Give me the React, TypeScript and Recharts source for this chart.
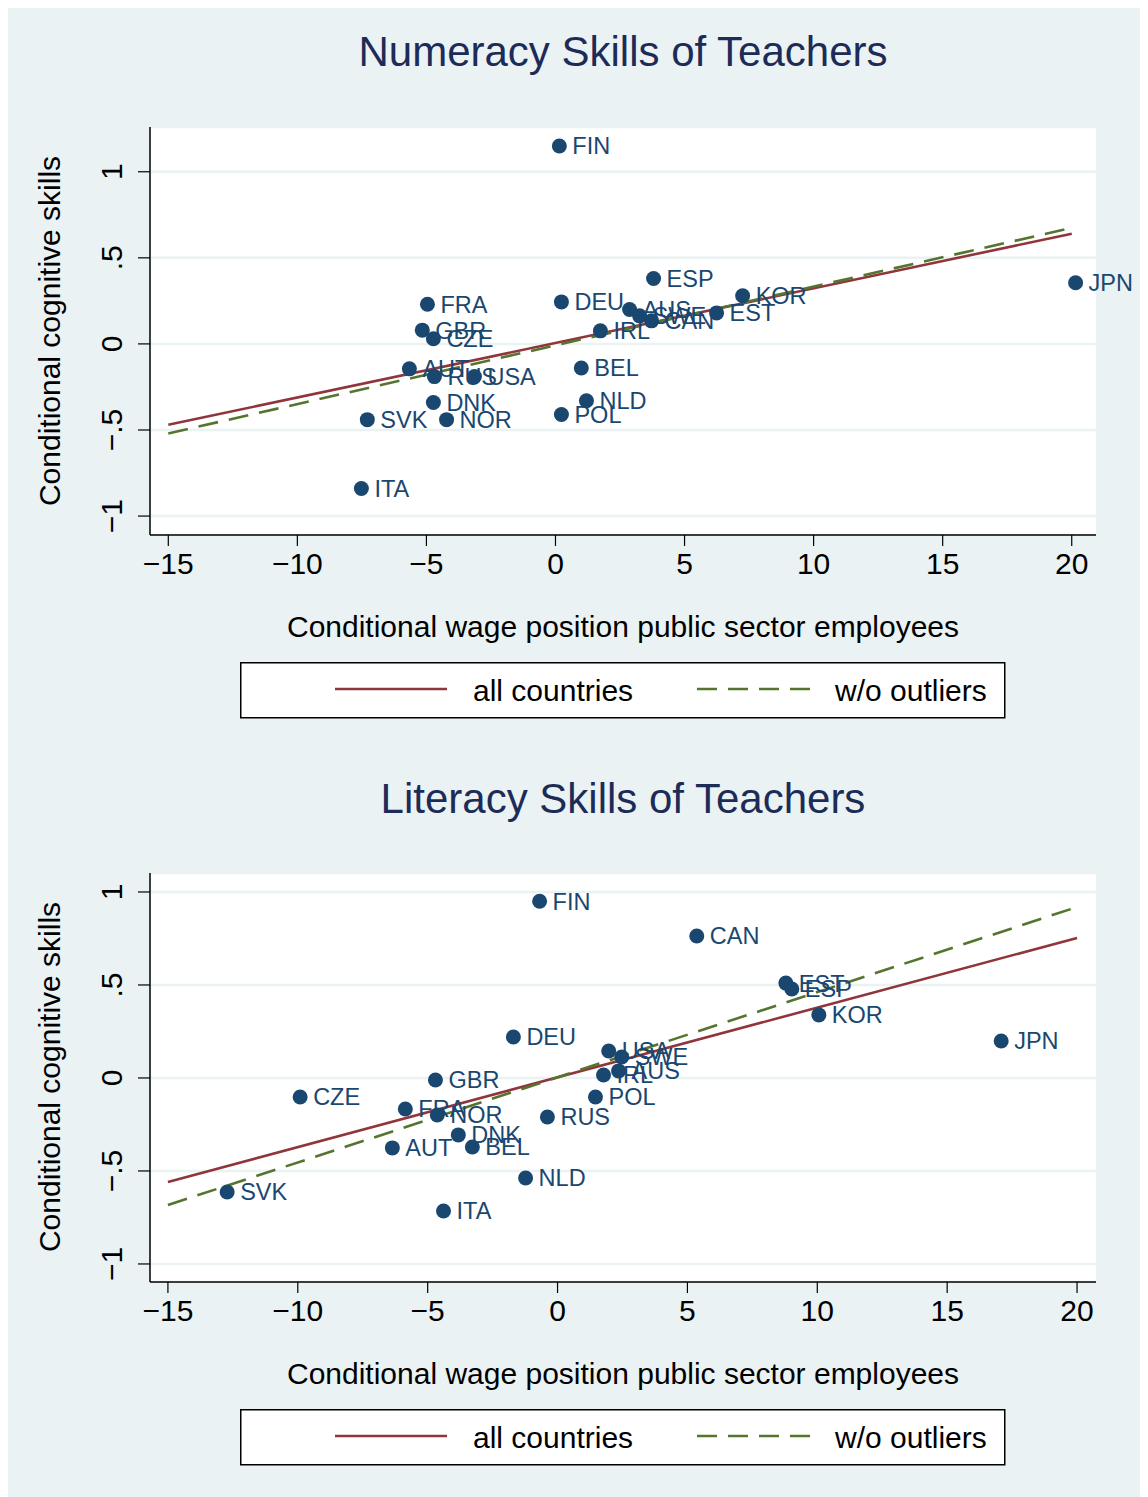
import React from 'react';
import { ComposedChart, Scatter, Line, XAxis, YAxis, CartesianGrid } from 'recharts';

// Numeracy panel
const numCountries = ['FIN', 'ESP', 'KOR', 'JPN', 'FRA', 'DEU', 'AUS', 'SWE', 'CAN', 'EST', 'GBR', 'CZE', 'IRL', 'AUT', 'RUS', 'USA', 'BEL', 'DNK', 'NLD', 'SVK', 'NOR', 'POL', 'ITA'];
const numWage = [0.15, 3.8, 7.25, 20.15, -4.96, 0.23, 2.87, 3.26, 3.72, 6.24, -5.16, -4.73, 1.74, -5.66, -4.69, -3.14, 1.0, -4.73, 1.2, -7.29, -4.22, 0.23, -7.52];
const numSkill = [1.15, 0.38, 0.28, 0.355, 0.23, 0.244, 0.2, 0.163, 0.134, 0.18, 0.08, 0.03, 0.076, -0.145, -0.19, -0.19, -0.14, -0.34, -0.33, -0.44, -0.44, -0.41, -0.84];
const numFitX = [-15, 20];
const numFitAll = [-0.47, 0.64];
const numFitNoOutliers = [-0.52, 0.674];

// Literacy panel
const litCountries = ['FIN', 'CAN', 'EST', 'ESP', 'KOR', 'JPN', 'DEU', 'USA', 'SWE', 'IRL', 'AUS', 'POL', 'RUS', 'GBR', 'CZE', 'FRA', 'NOR', 'DNK', 'AUT', 'BEL', 'NLD', 'SVK', 'ITA'];
const litWage = [-0.69, 5.36, 8.79, 9.02, 10.06, 17.08, -1.7, 1.97, 2.47, 1.77, 2.35, 1.46, -0.39, -4.7, -9.91, -5.86, -4.63, -3.82, -6.36, -3.28, -1.23, -12.72, -4.39];
const litSkill = [0.95, 0.763, 0.51, 0.478, 0.339, 0.199, 0.22, 0.145, 0.113, 0.016, 0.038, -0.102, -0.21, -0.011, -0.102, -0.167, -0.199, -0.306, -0.376, -0.371, -0.538, -0.613, -0.715];
const litFitX = [-15, 20];
const litFitAll = [-0.559, 0.753];
const litFitNoOutliers = [-0.683, 0.919];

const xTicks = [-15, -10, -5, 0, 5, 10, 15, 20];
const yTicks = [-1, -0.5, 0, 0.5, 1];

const BG = '#eaf2f3';
const NAVY = '#1a476f';
const RED = '#90353b';
const GREEN = '#55752f';
const TITLE = '#1c2b57';
const FONT = '"Liberation Sans", Arial, Helvetica, sans-serif';

const fmtX = (v: number) => String(v).replace('-', '\u2212');
const fmtY = (v: number) => {
  if (v === 0) return '0';
  const s = Math.abs(v) === 0.5 ? '.5' : String(Math.abs(v));
  return v < 0 ? '\u2212' + s : s;
};

const YTick = (props: any) => {
  const { x, y, payload } = props;
  const bx = x - 14;
  return (
    <text x={bx} y={y} transform={`rotate(-90 ${bx} ${y})`} textAnchor="middle" fontSize={30} fill="#000">
      {fmtY(payload.value)}
    </text>
  );
};

const Dot = (props: any) => {
  const { cx, cy, payload } = props;
  if (cx == null || cy == null) return null;
  return (
    <g>
      <circle cx={cx} cy={cy} r={7.5} fill={NAVY} />
      <text x={cx + 13} y={cy + 8.4} fontSize={23.5} fill={NAVY}>{payload.name}</text>
    </g>
  );
};

interface PanelProps {
  top: number;
  title: string;
  names: string[];
  wage: number[];
  skill: number[];
  fitX: number[];
  fitAll: number[];
  fitNo: number[];
  xDomain: [number, number];
  yDomain: [number, number];
  marginTop: number;
}

function Panel({ top, title, names, wage, skill, fitX, fitAll, fitNo, xDomain, yDomain, marginTop }: PanelProps) {
  const points = names.map((n, i) => ({ name: n, x: wage[i], y: skill[i] }));
  const allLine = fitX.map((x, i) => ({ x, y: fitAll[i] }));
  const noLine = fitX.map((x, i) => ({ x, y: fitNo[i] }));

  return (
    <div style={{ position: 'absolute', left: 0, top, width: 1133, height: 747 }}>
      <div style={{ position: 'absolute', left: 0, top: 23, width: 1230, textAlign: 'center', fontSize: 42, lineHeight: 1, color: TITLE, whiteSpace: 'nowrap' }}>
        {title}
      </div>
      <div style={{ position: 'absolute', left: 42, top: marginTop + 204, transform: 'translate(-50%, -50%) rotate(-90deg)', fontSize: 30, lineHeight: 1, whiteSpace: 'nowrap', color: '#000' }}>
        Conditional cognitive skills
      </div>
      <ComposedChart width={1133} height={747} margin={{ top: marginTop, right: 45, left: 82, bottom: 160 }}>
        <CartesianGrid horizontal vertical={false} stroke={BG} strokeWidth={2.5} fill="#fff" />
        <XAxis
          type="number"
          dataKey="x"
          domain={xDomain}
          ticks={xTicks}
          height={60}
          tickSize={11}
          tickMargin={7}
          tickFormatter={fmtX}
          tick={{ fontSize: 30, fill: '#000' }}
          axisLine={{ stroke: '#000', strokeWidth: 1.5 }}
          tickLine={{ stroke: '#000', strokeWidth: 1.2 }}
        />
        <YAxis
          type="number"
          dataKey="y"
          domain={yDomain}
          ticks={yTicks}
          width={60}
          tickSize={12}
          tick={<YTick />}
          axisLine={{ stroke: '#000', strokeWidth: 1.5 }}
          tickLine={{ stroke: '#000', strokeWidth: 1.2 }}
        />
        <Scatter data={points} dataKey="y" shape={<Dot />} isAnimationActive={false} />
        <Line data={allLine} dataKey="y" type="linear" stroke={RED} strokeWidth={2.6} dot={false} activeDot={false} isAnimationActive={false} />
        <Line data={noLine} dataKey="y" type="linear" stroke={GREEN} strokeWidth={2.6} strokeDasharray="20 11" dot={false} activeDot={false} isAnimationActive={false} />
      </ComposedChart>
      <div style={{ position: 'absolute', left: 0, top: 604, width: 1230, textAlign: 'center', fontSize: 30, lineHeight: 1, color: '#000', whiteSpace: 'nowrap' }}>
        Conditional wage position public sector employees
      </div>
      <svg style={{ position: 'absolute', left: 232, top: 654 }} width={766} height={57}>
        <rect x={0.75} y={0.75} width={764} height={55} fill="#fff" stroke="#000" strokeWidth={1.5} />
        <line x1={95} x2={207} y1={27} y2={27} stroke={RED} strokeWidth={2.6} />
        <text x={233} y={38.7} fontSize={30} fill="#000">all countries</text>
        <line x1={457} x2={570} y1={27} y2={27} stroke={GREEN} strokeWidth={2.6} strokeDasharray="20 11" />
        <text x={595} y={38.7} fontSize={30} fill="#000">w/o outliers</text>
      </svg>
    </div>
  );
}

export default function App() {
  return (
    <div style={{ position: 'relative', width: 1133, height: 1489, background: BG, fontFamily: FONT, overflow: 'hidden' }}>
      <Panel
        top={0}
        title="Numeracy Skills of Teachers"
        names={numCountries}
        wage={numWage}
        skill={numSkill}
        fitX={numFitX}
        fitAll={numFitAll}
        fitNo={numFitNoOutliers}
        xDomain={[-15.709, 20.94]}
        yDomain={[-1.11, 1.26]}
        marginTop={119}
      />
      <Panel
        top={747}
        title="Literacy Skills of Teachers"
        names={litCountries}
        wage={litWage}
        skill={litSkill}
        fitX={litFitX}
        fitAll={litFitAll}
        fitNo={litFitNoOutliers}
        xDomain={[-15.69, 20.73]}
        yDomain={[-1.097, 1.102]}
        marginTop={118}
      />
    </div>
  );
}
